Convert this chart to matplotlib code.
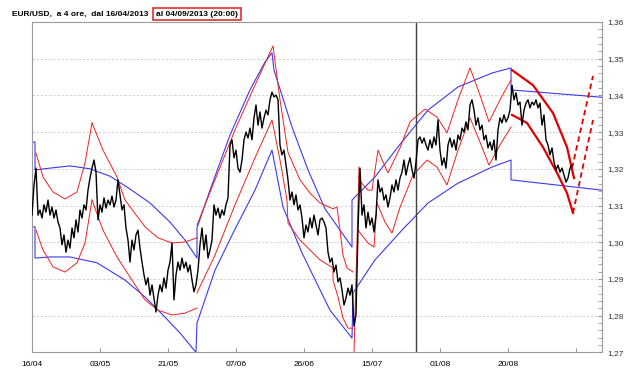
import numpy as np
import matplotlib
matplotlib.use("Agg")
import matplotlib.pyplot as plt

# EUR/USD 4h closes, one value every 2 bars (bar 0 = 16/04)
price = [
    1.3074, 1.3156, 1.3202, 1.3074, 1.3088, 1.3066, 1.3102, 1.3082, 1.3115, 1.3074,
    1.3096, 1.3066, 1.3088, 1.3055, 1.3039, 1.2993, 1.3020, 1.2973, 1.3006, 1.2984,
    1.3039, 1.3012, 1.3061, 1.3028, 1.3088, 1.3066, 1.3102, 1.3088, 1.3142, 1.3175,
    1.3202, 1.3224, 1.3191, 1.3061, 1.3102, 1.3082, 1.3121, 1.3093, 1.3115, 1.3102,
    1.3126, 1.3096, 1.3115, 1.3170, 1.3129, 1.3088, 1.3102, 1.3039, 1.3006, 1.2946,
    1.3006, 1.2979, 1.3020, 1.3033, 1.2984, 1.2946, 1.2911, 1.2884, 1.2903, 1.2856,
    1.2884, 1.2848, 1.2810, 1.2856, 1.2884, 1.2865, 1.2903, 1.2875, 1.2924, 1.2946,
    1.2998, 1.2843, 1.2911, 1.2946, 1.2924, 1.2957, 1.2930, 1.2946, 1.2919, 1.2938,
    1.2897, 1.2865, 1.2884, 1.2924, 1.2993, 1.3039, 1.2979, 1.3020, 1.2957, 1.2979,
    1.3006, 1.3102, 1.3074, 1.3093, 1.3066, 1.3088, 1.3074, 1.3102, 1.3121, 1.3265,
    1.3279, 1.3230, 1.3251, 1.3202, 1.3191, 1.3224, 1.3279, 1.3300, 1.3284, 1.3311,
    1.3279, 1.3339, 1.3374, 1.3319, 1.3355, 1.3311, 1.3339, 1.3360, 1.3347, 1.3388,
    1.3409, 1.3396, 1.3401, 1.3388, 1.3265, 1.3238, 1.3251, 1.3210, 1.3170, 1.3115,
    1.3137, 1.3102, 1.3129, 1.3088, 1.3102, 1.3066, 1.3012, 1.3047, 1.3028, 1.3066,
    1.3039, 1.3074, 1.3047, 1.3020, 1.3061, 1.3066, 1.3055, 1.3039, 1.2973, 1.2946,
    1.2957, 1.2919, 1.2938, 1.2892, 1.2903, 1.2870, 1.2829, 1.2848, 1.2875, 1.2856,
    1.2884, 1.2772, 1.2802, 1.3033, 1.3202, 1.3074, 1.3102, 1.3039, 1.3082, 1.3047,
    1.3066, 1.3028, 1.3074, 1.3170, 1.3137, 1.3148, 1.3115, 1.3129, 1.3096, 1.3121,
    1.3156, 1.3137, 1.3170, 1.3142, 1.3175, 1.3191, 1.3224, 1.3183, 1.3210, 1.3230,
    1.3197, 1.3175, 1.3219, 1.3279, 1.3287, 1.3270, 1.3284, 1.3265, 1.3251, 1.3279,
    1.3257, 1.3287, 1.3265, 1.3333, 1.3251, 1.3210, 1.3230, 1.3202, 1.3265, 1.3284,
    1.3259, 1.3279, 1.3251, 1.3292, 1.3279, 1.3311, 1.3300, 1.3328, 1.3306, 1.3374,
    1.3388, 1.3360, 1.3319, 1.3339, 1.3306, 1.3319, 1.3279, 1.3292, 1.3257, 1.3273,
    1.3251, 1.3279, 1.3224, 1.3306, 1.3339, 1.3325, 1.3347, 1.3328, 1.3339, 1.3360,
    1.3428, 1.3388, 1.3407, 1.3374, 1.3382, 1.3319, 1.3360, 1.3379, 1.3388, 1.3366,
    1.3382, 1.3374, 1.3388, 1.3366, 1.3379, 1.3319, 1.3347, 1.3279, 1.3265, 1.3238,
    1.3257, 1.3219, 1.3197, 1.3210, 1.3191, 1.3202, 1.3183, 1.3164, 1.3175, 1.3202,
    1.3210,
]
bars = np.arange(len(price)) * 2

# blue channels
blue_up_x = [0, 3, 3, 18, 38, 58, 78, 98, 118, 138, 153, 165, 165, 178, 198, 218, 233, 240,
             242, 260, 276, 293, 320, 320, 343, 366, 396, 426, 460, 479, 479, 570]
blue_up_y = [1.3273, 1.3273, 1.3197, 1.3202, 1.3208, 1.3200, 1.3180, 1.3145, 1.3107, 1.3055,
             1.3006, 1.2957, 1.3039, 1.3142, 1.3292, 1.3415, 1.3491, 1.3516,
             1.3469, 1.3314, 1.3197, 1.3091, 1.2987, 1.3115, 1.3178, 1.3260, 1.3360, 1.3423,
             1.3461, 1.3475, 1.3415, 1.3395]
blue_lo_x = [0, 3, 3, 18, 38, 65, 93, 113, 133, 148, 164, 165, 183, 201, 223, 240, 251, 270,
             298, 320, 321, 343, 370, 396, 426, 460, 479, 479, 570]
blue_lo_y = [1.3042, 1.3042, 1.2957, 1.2960, 1.2960, 1.2944, 1.2897, 1.2851, 1.2796, 1.2753,
             1.2700, 1.2780, 1.2924, 1.3025, 1.3142, 1.3251, 1.3096, 1.2971,
             1.2815, 1.2739, 1.2862, 1.2952, 1.3033, 1.3107, 1.3161, 1.3205, 1.3224, 1.3170,
             1.3142]

# red arcs
r1u_x = [4, 11, 21, 33, 45, 53, 60]
r1u_y = [1.3243, 1.3178, 1.3137, 1.3118, 1.3137, 1.3216, 1.3325]
r1l_x = [4, 11, 21, 33, 45, 53, 60]
r1l_y = [1.3033, 1.2979, 1.2933, 1.2919, 1.2944, 1.2998, 1.3115]
r2u_x = [60, 71, 85, 93, 113, 126, 140, 153, 165]
r2u_y = [1.3325, 1.3251, 1.3178, 1.3115, 1.3042, 1.3012, 1.2998, 1.3001, 1.3012]
r2l_x = [60, 71, 85, 98, 113, 126, 140, 153, 165]
r2l_y = [1.3115, 1.3033, 1.2960, 1.2905, 1.2843, 1.2815, 1.2802, 1.2807, 1.2821]
r3u_x = [165, 183, 203, 223, 241, 248, 256, 268, 278, 288, 301, 305, 308, 311, 315, 321]
r3u_y = [1.3047, 1.3170, 1.3306, 1.3428, 1.3535, 1.3388, 1.3245, 1.3170, 1.3134, 1.3107,
         1.3091, 1.3096, 1.3033, 1.2965, 1.2930, 1.2919]
r3l_x = [165, 183, 203, 223, 240, 248, 255, 256, 268, 278, 288, 301, 301, 306, 311, 316, 321]
r3l_y = [1.2862, 1.2965, 1.3102, 1.3230, 1.3333, 1.3224, 1.3115, 1.3052, 1.3006, 1.2979,
         1.2952, 1.2930, 1.2897, 1.2851, 1.2794, 1.2766, 1.2766]
spike_x = [322, 327]
spike_y = [1.2700, 1.3205]
r4u_x = [326, 331, 336, 340, 346, 351, 356, 368, 378, 393, 405, 415, 426, 438, 448, 457, 468, 479]
r4u_y = [1.3178, 1.3156, 1.3142, 1.3142, 1.3251, 1.3219, 1.3189, 1.3257, 1.3328, 1.3363,
         1.3341, 1.3298, 1.3388, 1.3475, 1.3401, 1.3328, 1.3388, 1.3442]
r4l_x = [326, 336, 342, 345, 353, 360, 368, 381, 395, 405, 415, 426, 438, 448, 457, 468, 479]
r4l_y = [1.3033, 1.2998, 1.2987, 1.3107, 1.3055, 1.3025, 1.3095, 1.3183, 1.3224, 1.3205,
         1.3156, 1.3251, 1.3339, 1.3273, 1.3210, 1.3265, 1.3314]

# last channel (thick) and projections (dashed)
r5u_x = [480, 501, 521, 535, 542]
r5u_y = [1.3469, 1.3428, 1.3352, 1.3259, 1.3175]
r5l_x = [480, 495, 511, 525, 535, 541]
r5l_y = [1.3347, 1.3325, 1.3259, 1.3189, 1.3134, 1.3080]
dash_u_x = [540, 561]
dash_u_y = [1.3202, 1.3453]
dash_l_x = [541, 561]
dash_l_y = [1.3080, 1.3333]

tick_pos = [0, 68, 136, 204, 272, 340, 408, 476, 544]
tick_lab = ["16/04", "03/05", "21/05", "07/06", "26/06", "15/07", "01/08", "20/08", ""]
cursor_bar = 384

fig = plt.figure(figsize=(6.25, 3.71), dpi=100)
ax = fig.add_axes([32 / 625, 1 - 352.4 / 371, 570 / 625, 330.4 / 371])

for y in np.arange(1.28, 1.36, 0.01):
    ax.axhline(y, color="#cccccc", lw=0.6, ls=(0, (3, 2)), zorder=0)

blue = "#3a3af0"
red = "#f02020"
ax.plot(blue_up_x, blue_up_y, color=blue, lw=0.8)
ax.plot(blue_lo_x, blue_lo_y, color=blue, lw=0.8)
for xs, ys in [(r1u_x, r1u_y), (r1l_x, r1l_y), (r2u_x, r2u_y), (r2l_x, r2l_y),
               (r3u_x, r3u_y), (r3l_x, r3l_y), (spike_x, spike_y),
               (r4u_x, r4u_y), (r4l_x, r4l_y)]:
    ax.plot(xs, ys, color=red, lw=0.7)
ax.plot(r5u_x, r5u_y, color="#e00000", lw=1.6)
ax.plot(r5l_x, r5l_y, color="#e00000", lw=1.6)
ax.plot(dash_u_x, dash_u_y, color="#e00000", lw=1.3, ls=(0, (3, 2)))
ax.plot(dash_l_x, dash_l_y, color="#e00000", lw=1.3, ls=(0, (3, 2)))

ax.plot(bars, price, color="black", lw=1.0, zorder=5)
ax.axvline(cursor_bar, color="#404040", lw=1.0)

ax.set_xlim(0, 570)
ax.set_ylim(1.27, 1.36)
ax.set_xticks(tick_pos)
ax.set_xticklabels(tick_lab, fontsize=6, family="Liberation Sans")
yt = np.round(np.arange(1.27, 1.3601, 0.01), 2)
ax.set_yticks(yt)
ax.set_yticklabels([f"{v:.2f}".replace(".", ",") for v in yt], fontsize=6,
                   family="Liberation Sans", color="#333333")
ax.set_yticks(np.arange(1.27, 1.36, 0.002), minor=True)
ax.yaxis.tick_right()
ax.tick_params(axis="y", which="both", direction="in", length=3, color="#999999", pad=4)
ax.tick_params(axis="x", direction="in", length=3, color="#999999", pad=6)
for s in ax.spines.values():
    s.set_color("#9a9a9a")

fig.text(12 / 625, 1 - 14 / 371, "EUR/USD,  a 4 ore,  dal 16/04/2013", fontsize=6,
         fontweight="bold", family="Liberation Sans", va="center")
fig.text(156 / 625, 1 - 14 / 371, "al 04/09/2013 (20:00)", fontsize=6,
         fontweight="bold", family="Liberation Sans", va="center",
         bbox=dict(boxstyle="square,pad=0.35", fc="white", ec="#e03030", lw=1.2))

fig.savefig("out.png", dpi=100)
